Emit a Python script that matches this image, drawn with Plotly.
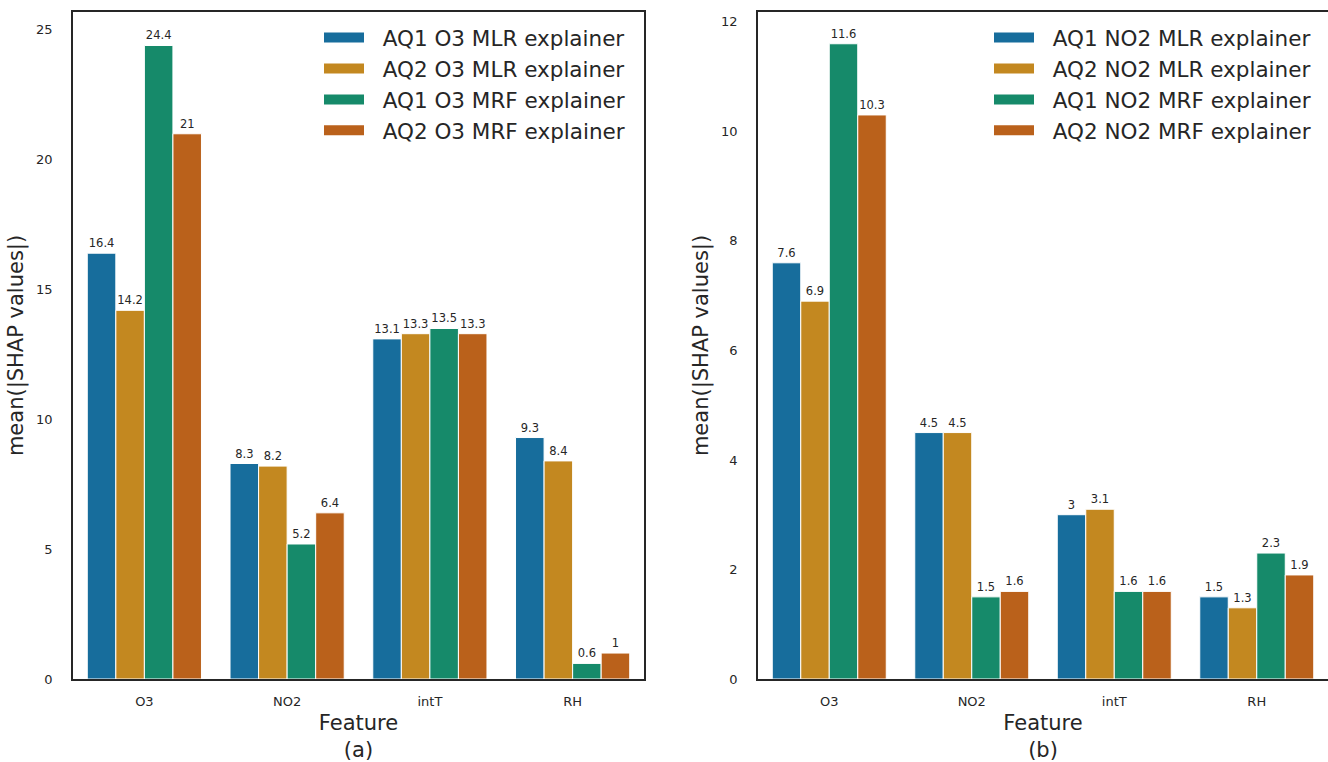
import plotly.graph_objects as go

features = ["O3", "NO2", "intT", "RH"]

o3_names = ["AQ1 O3 MLR explainer", "AQ2 O3 MLR explainer",
            "AQ1 O3 MRF explainer", "AQ2 O3 MRF explainer"]
aq1_o3_mlr = [16.4, 8.3, 13.1, 9.3]
aq2_o3_mlr = [14.2, 8.2, 13.3, 8.4]
aq1_o3_mrf = [24.4, 5.2, 13.5, 0.6]
aq2_o3_mrf = [21.0, 6.4, 13.3, 1.0]

no2_names = ["AQ1 NO2 MLR explainer", "AQ2 NO2 MLR explainer",
             "AQ1 NO2 MRF explainer", "AQ2 NO2 MRF explainer"]
aq1_no2_mlr = [7.6, 4.5, 3.0, 1.5]
aq2_no2_mlr = [6.9, 4.5, 3.1, 1.3]
aq1_no2_mrf = [11.6, 1.5, 1.6, 2.3]
aq2_no2_mrf = [10.3, 1.6, 1.6, 1.9]

colors = ["#176d9c", "#c38820", "#168a6a", "#ba611b"]
FONT = "DejaVu Sans"
TXT = "#262626"

fig = go.Figure()

def fmt(v):
    return ("%g" % v)

panels = [
    (o3_names, [aq1_o3_mlr, aq2_o3_mlr, aq1_o3_mrf, aq2_o3_mrf], "x", "y", "legend"),
    (no2_names, [aq1_no2_mlr, aq2_no2_mlr, aq1_no2_mrf, aq2_no2_mrf], "x2", "y2", "legend2"),
]

for names, series, xa, ya, lg in panels:
    for i, (name, vals) in enumerate(zip(names, series)):
        fig.add_trace(go.Bar(
            x=features, y=vals, name=name,
            marker=dict(color=colors[i], line=dict(color="white", width=1)),
            text=[fmt(v) for v in vals], textposition="outside", cliponaxis=False,
            textfont=dict(size=11.5, color=TXT, family=FONT),
            xaxis=xa, yaxis=ya, showlegend=False, offsetgroup=str(i),
        ))
    # legend proxies (wide rectangular swatches)
    for i, name in enumerate(names):
        fig.add_trace(go.Scatter(
            x=[None], y=[None], name="\u00a0\u00a0" + name, mode="lines",
            line=dict(color=colors[i], width=13),
            xaxis=xa, yaxis=ya, legend=lg, showlegend=True, hoverinfo="skip",
        ))

axis_common = dict(showline=True, linecolor="#262626", linewidth=1.5, mirror=True,
                   showgrid=False, zeroline=False, ticks="", automargin=False,
                   tickfont=dict(size=13, color=TXT, family=FONT))
title_font = dict(size=21, color=TXT, family=FONT)

fig.update_layout(
    width=1328, height=762,
    margin=dict(l=0, r=0, t=0, b=0),
    paper_bgcolor="white", plot_bgcolor="white",
    font=dict(family=FONT, color=TXT),
    barmode="group", bargap=0.2, bargroupgap=0,
    xaxis=dict(domain=[73/1328, 644/1328], anchor="y", range=[-0.5, 3.5],
               ticklabelstandoff=10,
               title=dict(text="Feature<br>(a)", font=title_font, standoff=12),
               **axis_common),
    yaxis=dict(domain=[83/762, 750/762], anchor="x", range=[0, 25.69],
               tickvals=[0, 5, 10, 15, 20, 25], ticklabelstandoff=16,
               title=dict(text="mean(|SHAP values|)", font=title_font, standoff=7),
               **axis_common),
    xaxis2=dict(domain=[758/1328, 1.0], anchor="y2", range=[-0.5, 3.5],
                ticklabelstandoff=10,
                title=dict(text="Feature<br>(b)", font=title_font, standoff=12),
                **axis_common),
    yaxis2=dict(domain=[83/762, 750/762], anchor="x2", range=[0, 12.18],
                tickvals=[0, 2, 4, 6, 8, 10, 12], ticklabelstandoff=16,
                title=dict(text="mean(|SHAP values|)", font=title_font, standoff=7),
                **axis_common),
    legend=dict(x=630/1328, y=745/762, xanchor="right", yanchor="top",
                bgcolor="rgba(255,255,255,0)", font=dict(size=21.5, color=TXT, family=FONT),
                tracegroupgap=0, itemwidth=40),
    legend2=dict(x=1316/1328, y=745/762, xanchor="right", yanchor="top",
                 bgcolor="rgba(255,255,255,0)", font=dict(size=21.5, color=TXT, family=FONT),
                 tracegroupgap=0, itemwidth=40),
)

fig.write_html("out.html", config={"displayModeBar": False},
               post_script="document.body.style.margin='0px';document.body.style.overflow='hidden';")
